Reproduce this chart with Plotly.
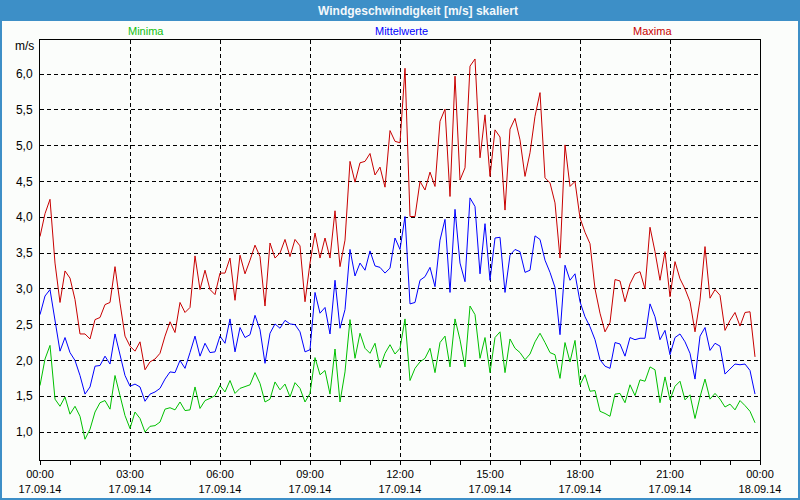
import plotly.graph_objects as go
import pandas as pd

# ---- data (10-minute values, 17.09.14 00:00 .. 23:50) ----
maxima = [3.73, 4.05, 4.25, 3.36, 2.81, 3.25, 3.15, 2.85, 2.37, 2.37, 2.30, 2.57, 2.60, 2.78, 2.81, 3.31, 2.80, 2.34, 2.20, 2.13,
          2.26, 1.87, 1.98, 2.02, 2.10, 2.34, 2.54, 2.39, 2.81, 2.67, 2.74, 3.46, 2.99, 3.26, 2.99, 2.92, 3.22,
          3.22, 3.43, 2.84, 3.47, 3.21, 3.40, 3.61, 3.45, 2.76, 3.64, 3.43, 3.50, 3.69, 3.45, 3.69, 3.60, 2.82, 3.36,
          3.78, 3.43, 3.71, 3.43, 4.09, 3.31, 3.68, 4.78, 4.49, 4.76, 4.78, 4.89, 4.59, 4.70, 4.42, 5.21, 5.06, 5.04,
          6.08, 4.01, 4.01, 4.50, 4.38, 4.63, 4.43, 5.34, 5.51, 4.29, 5.97, 4.52, 4.69, 6.11, 6.21, 4.83, 5.43, 4.57,
          5.22, 5.12, 4.10, 5.23, 5.38, 5.08, 4.57, 4.90, 5.41, 5.74, 4.55, 4.48, 4.20, 3.43, 5.01, 4.43, 4.50, 3.99,
          3.79, 3.63, 3.00, 2.66, 2.40, 2.53, 3.13, 3.11, 2.82, 3.07, 3.21, 3.24, 3.00, 3.86, 3.52, 3.12, 3.52, 2.89,
          3.38, 3.14, 3.00, 2.82, 2.40, 2.84, 3.59, 2.87, 2.99, 2.91, 2.42, 2.56, 2.67, 2.48, 2.67, 2.68, 2.05]

mittelwerte = [2.64, 2.90, 2.99, 2.53, 2.13, 2.32, 2.11, 2.00, 1.79, 1.53, 1.63, 1.92, 1.93, 2.06, 1.95, 2.37, 2.06, 1.79, 1.64, 1.67,
               1.63, 1.43, 1.53, 1.56, 1.61, 1.74, 1.84, 1.83, 2.00, 1.89, 2.11, 2.34, 2.06, 2.24, 2.11, 2.12, 2.34,
               2.24, 2.58, 2.12, 2.46, 2.32, 2.36, 2.63, 2.43, 1.96, 2.38, 2.51, 2.45, 2.56, 2.51, 2.50, 2.40, 2.12, 2.15,
               2.95, 2.66, 2.74, 2.37, 3.12, 2.45, 2.71, 3.55, 3.18, 3.36, 3.26, 3.53, 3.32, 3.30, 3.22, 3.29, 3.71, 3.55,
               4.01, 2.79, 2.81, 3.12, 3.17, 3.30, 3.03, 3.68, 3.97, 2.95, 4.11, 3.36, 3.10, 4.27, 4.15, 3.21, 3.91, 3.12,
               3.71, 3.72, 2.95, 3.47, 3.55, 3.52, 3.23, 3.26, 3.74, 3.69, 3.40, 3.23, 3.02, 2.36, 3.33, 3.12, 3.21, 2.82,
               2.61, 2.47, 2.29, 2.01, 1.92, 1.89, 2.25, 2.23, 2.06, 2.32, 2.29, 2.31, 2.31, 2.79, 2.61, 2.29, 2.42, 2.08,
               2.32, 2.37, 2.26, 2.10, 1.74, 2.34, 2.46, 2.14, 2.24, 2.20, 1.81, 1.88, 1.95, 1.94, 1.95, 1.86, 1.53]

minima = [1.65, 2.02, 2.21, 1.46, 1.36, 1.49, 1.25, 1.36, 1.22, 0.90, 1.04, 1.28, 1.41, 1.44, 1.32, 1.79, 1.51, 1.23, 1.05, 1.28,
          1.19, 1.00, 1.08, 1.09, 1.14, 1.32, 1.34, 1.31, 1.42, 1.30, 1.31, 1.63, 1.33, 1.44, 1.47, 1.51, 1.65,
          1.56, 1.72, 1.54, 1.61, 1.64, 1.66, 1.83, 1.68, 1.42, 1.46, 1.70, 1.59, 1.67, 1.49, 1.69, 1.61, 1.42, 1.54,
          2.04, 1.80, 1.86, 1.53, 2.16, 1.42, 1.84, 2.57, 2.03, 2.38, 2.17, 2.10, 2.24, 1.90, 2.10, 2.22, 2.09, 2.17,
          2.58, 1.72, 1.89, 1.98, 2.03, 2.17, 1.83, 2.25, 2.34, 1.91, 2.58, 2.29, 1.91, 2.76, 2.64, 2.03, 2.32, 1.83,
          2.32, 2.40, 1.83, 2.30, 2.17, 2.11, 2.01, 2.09, 2.26, 2.38, 2.25, 2.11, 2.08, 1.75, 2.25, 1.98, 2.28, 1.66,
          1.80, 1.57, 1.58, 1.29, 1.26, 1.22, 1.53, 1.54, 1.41, 1.66, 1.51, 1.73, 1.71, 1.91, 1.87, 1.41, 1.77, 1.45,
          1.64, 1.71, 1.45, 1.52, 1.19, 1.49, 1.74, 1.46, 1.54, 1.46, 1.35, 1.39, 1.31, 1.44, 1.37, 1.29, 1.13]

times = pd.date_range("2014-09-17 00:00", periods=len(maxima), freq="10min")

x_tick_vals = ["2014-09-17 00:00", "2014-09-17 03:00", "2014-09-17 06:00", "2014-09-17 09:00", "2014-09-17 12:00",
               "2014-09-17 15:00", "2014-09-17 18:00", "2014-09-17 21:00", "2014-09-18 00:00"]
x_tick_text = ["00:00<br>17.09.14", "03:00<br>17.09.14", "06:00<br>17.09.14", "09:00<br>17.09.14", "12:00<br>17.09.14",
               "15:00<br>17.09.14", "18:00<br>17.09.14", "21:00<br>17.09.14", "00:00<br>18.09.14"]
y_tick_vals = [1.0, 1.5, 2.0, 2.5, 3.0, 3.5, 4.0, 4.5, 5.0, 5.5, 6.0]
y_tick_text = ["1,0", "1,5", "2,0", "2,5", "3,0", "3,5", "4,0", "4,5", "5,0", "5,5", "6,0"]

C_MIN, C_MID, C_MAX = "#00c000", "#0000ff", "#c80000"
FONT = "Liberation Sans"

fig = go.Figure()
fig.add_trace(go.Scatter(x=times, y=minima, mode="lines", line=dict(color=C_MIN, width=1), name="Minima"))
fig.add_trace(go.Scatter(x=times, y=mittelwerte, mode="lines", line=dict(color=C_MID, width=1), name="Mittelwerte"))
fig.add_trace(go.Scatter(x=times, y=maxima, mode="lines", line=dict(color=C_MAX, width=1), name="Maxima"))

PW, PH, L, T = 720.0, 420.0, 40.0, 40.0
def px(xp):
    return (xp - L) / PW
def py(yp):
    return (T + PH - yp) / PH

fig.update_layout(
    width=800, height=500,
    margin=dict(l=40, r=40, t=40, b=40, autoexpand=False),
    paper_bgcolor="#fbfdfb", plot_bgcolor="#fbfdfb",
    showlegend=False,
    font=dict(family=FONT, size=11, color="#000000"),
    xaxis=dict(
        type="date", automargin=False,
        range=["2014-09-17 00:00", "2014-09-18 00:00"],
        tickmode="array", tickvals=x_tick_vals, ticktext=x_tick_text,
        showgrid=True, gridcolor="#000000", gridwidth=1, griddash="4px,3px",
        showline=True, linecolor="#000000", linewidth=1, mirror=True,
        ticks="outside", ticklen=4, tickcolor="#000000",
        minor=dict(dtick=3600000, ticks="outside", ticklen=4, tickcolor="#000000", showgrid=False),
        tickfont=dict(family=FONT, size=11, color="#000000"),
        zeroline=False,
    ),
    yaxis=dict(
        automargin=False,
        range=[0.61, 6.475],
        tickmode="array", tickvals=y_tick_vals, ticktext=y_tick_text,
        showgrid=True, gridcolor="#000000", gridwidth=1, griddash="4px,3px",
        showline=True, linecolor="#000000", linewidth=1, mirror=True,
        ticks="", ticklabelstandoff=4,
        tickfont=dict(family=FONT, size=12, color="#000000"),
        zeroline=False,
    ),
    shapes=[
        dict(type="rect", xref="paper", yref="paper", x0=px(0), x1=px(800), y0=py(21), y1=py(0),
             fillcolor="#3d8fc7", line=dict(width=0), layer="above"),
        dict(type="rect", xref="paper", yref="paper", x0=px(0), x1=px(800), y0=py(500), y1=py(0),
             fillcolor="rgba(0,0,0,0)", line=dict(color="#3d8fc7", width=4), layer="above"),
    ],
    annotations=[
        dict(text="<b>Windgeschwindigkeit [m/s] skaliert</b>", xref="paper", yref="paper", x=px(418), y=py(11),
             xanchor="center", yanchor="middle", showarrow=False,
             font=dict(family=FONT, size=12, color="#f4f8fb")),
        dict(text="Minima", xref="paper", yref="paper", x=px(146), y=py(31), xanchor="center", yanchor="middle",
             showarrow=False, font=dict(family=FONT, size=11, color="#10c010")),
        dict(text="Mittelwerte", xref="paper", yref="paper", x=px(401), y=py(31), xanchor="center", yanchor="middle",
             showarrow=False, font=dict(family=FONT, size=11, color=C_MID)),
        dict(text="Maxima", xref="paper", yref="paper", x=px(652), y=py(31), xanchor="center", yanchor="middle",
             showarrow=False, font=dict(family=FONT, size=11, color=C_MAX)),
        dict(text="m/s", xref="paper", yref="paper", x=px(36), y=py(46), xanchor="right", yanchor="middle",
             showarrow=False, font=dict(family=FONT, size=12, color="#000000")),
    ],
)

fig.write_html("out.html", config={"displayModeBar": False, "staticPlot": True},
               post_script="document.body.style.margin='0';document.body.style.padding='0';")
